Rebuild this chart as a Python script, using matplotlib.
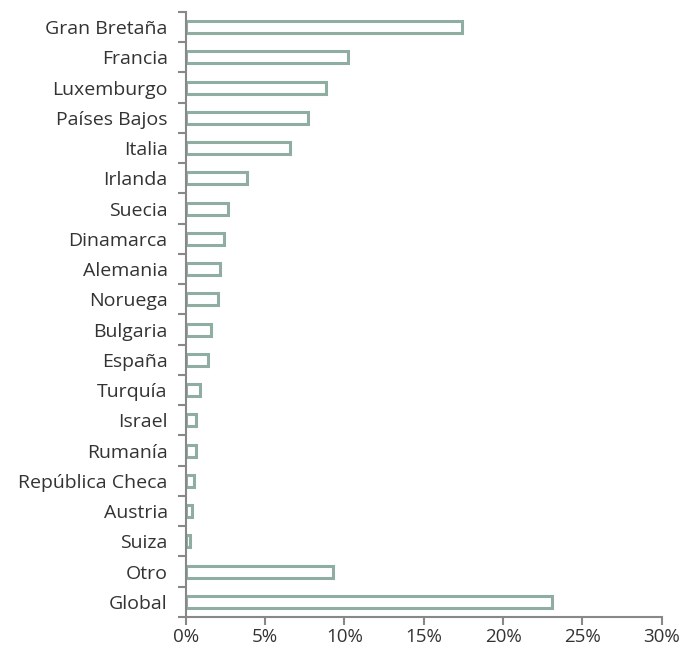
import numpy as np
import matplotlib.pyplot as plt
from matplotlib.ticker import FuncFormatter

# Datos
paises = ["Gran Bretaña", "Francia", "Luxemburgo", "Países Bajos", "Italia",
          "Irlanda", "Suecia", "Dinamarca", "Alemania", "Noruega", "Bulgaria",
          "España", "Turquía", "Israel", "Rumanía", "República Checa",
          "Austria", "Suiza", "Otro", "Global"]
valores = [17.4, 10.25, 8.83, 7.7, 6.56, 3.83, 2.63, 2.4, 2.14, 2.06, 1.56,
           1.37, 0.9, 0.67, 0.63, 0.49, 0.38, 0.27, 9.3, 23.1]
xticks = [0, 5, 10, 15, 20, 25, 30]

plt.rcParams['font.family'] = ['Open Sans', 'DejaVu Sans']

fig = plt.figure(figsize=(6.83, 6.47), dpi=100)
ax = fig.add_axes([0.272, 0.0464, 0.697, 0.9351])

y = np.arange(len(paises))
ax.barh(y, valores, height=0.40, color="white", edgecolor="#8fada0", linewidth=2.2)

ax.set_ylim(len(paises) - 0.5, -0.5)
ax.set_xlim(0, 30)

ax.set_yticks(y)
ax.set_yticklabels(paises, fontsize=14, color="#333333")
ax.set_yticks(np.arange(-0.5, len(paises)), minor=True)
ax.tick_params(axis="y", which="major", length=0, pad=13)
ax.tick_params(axis="y", which="minor", length=6, width=1.5, color="#888888")

ax.set_xticks(xticks)
ax.xaxis.set_major_formatter(FuncFormatter(lambda v, p: f"{v:.0f}%"))
ax.tick_params(axis="x", length=6, width=1.5, color="#888888", labelsize=13.5,
               labelcolor="#333333", pad=2)

for s in ["top", "right"]:
    ax.spines[s].set_visible(False)
for s in ["left", "bottom"]:
    ax.spines[s].set_color("#888888")
    ax.spines[s].set_linewidth(1.5)

fig.savefig("out.png", dpi=100)
